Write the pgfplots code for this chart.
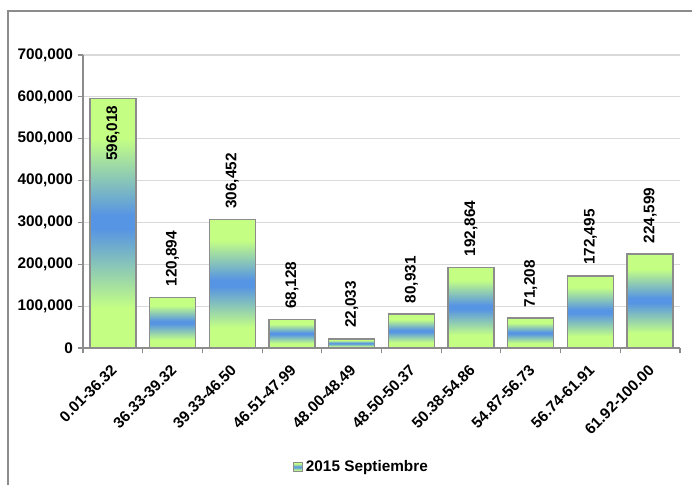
\documentclass[border=0pt]{standalone}
\usepackage{fontspec}
\setmainfont{Liberation Sans}
\usepackage{pgfplots}
\pgfplotsset{compat=1.18}

\definecolor{barGreen}{RGB}{196,255,132}
\definecolor{barBlue}{RGB}{86,148,228}
\definecolor{edgeGray}{RGB}{140,140,140}
\definecolor{gridGray}{RGB}{217,217,217}
\newcommand\lbl{\bfseries\fontsize{11.5}{13}\selectfont}

% green - blue - green, scaled to each bar (only 25bp..75bp is shown)
\pgfdeclareverticalshading{barshade}{100bp}{color(0bp)=(barGreen); color(33bp)=(barGreen);
  color(49bp)=(barBlue); color(51.5bp)=(barBlue); color(67bp)=(barGreen); color(100bp)=(barGreen)}

\pgfplotsset{
  onebar/.style={forget plot, ybar, bar shift=0pt, bar width=34.5pt, draw=edgeGray,
                 line width=1.1pt, shade, shading=barshade},
}

\begin{document}
\begin{tikzpicture}
% page size and chart frame (only left and top edges show)
\path[use as bounding box] (-62.25pt,-102.75pt) rectangle (456.75pt,261pt);
\draw[edgeGray, line width=1.5pt] (-56.25pt,-110pt) -- (-56.25pt,252.75pt) -- (470pt,252.75pt);

\begin{axis}[
    at={(0,0)}, anchor=south west,
    scale only axis,
    width=447.75pt, height=219.75pt,
    xmin=-0.5, xmax=9.5,
    ymin=0, ymax=700000,
    ytick={0,100000,200000,300000,400000,500000,600000,700000},
    scaled y ticks=false,
    axis lines*=left,
    axis line style={edgeGray, line width=1.5pt},
    tick align=outside,
    major tick length=4pt,
    minor tick length=4pt,
    tick style={edgeGray, line width=0.8pt},
    xtick={0,...,9},
    major x tick style={draw=none},
    minor xtick={-0.5,0.5,...,9.5},
    xticklabels={0.01-36.32,36.33-39.32,39.33-46.50,46.51-47.99,48.00-48.49,
                 48.50-50.37,50.38-54.86,54.87-56.73,56.74-61.91,61.92-100.00},
    xticklabel style={yshift=-6pt, xshift=-2pt, rotate=45, anchor=north east, font=\lbl, inner sep=1pt},
    yticklabel style={font=\lbl},
    ymajorgrids,
    major grid style={gridGray, line width=0.8pt},
    legend style={at={(0.467,-0.406)}, anchor=center, draw=none, font=\lbl},
    legend image code/.code={\draw[#1] (2pt,-3.5pt) rectangle (9pt,3.5pt);},
    /pgf/number format/fixed,
    /pgf/number format/1000 sep={,},
    /pgf/number format/assume math mode=true,
]
% one plot per bar so that each bar gets its own shading
\addplot[onebar] coordinates {(0,596018)};
\addplot[onebar] coordinates {(1,120894)};
\addplot[onebar] coordinates {(2,306452)};
\addplot[onebar] coordinates {(3,68128)};
\addplot[onebar] coordinates {(4,22033)};
\addplot[onebar] coordinates {(5,80931)};
\addplot[onebar] coordinates {(6,192864)};
\addplot[onebar] coordinates {(7,71208)};
\addplot[onebar] coordinates {(8,172495)};
\addplot[onebar] coordinates {(9,224599)};
\addlegendimage{draw=edgeGray, line width=0.6pt, shade, shading=barshade}
\addlegendentry{2015 Septiembre}

% value labels above the bars
\addplot[forget plot, draw=none, mark=none,
    nodes near coords,
    nodes near coords style={rotate=90, anchor=west, inner xsep=8pt, font=\lbl, text=black},
] coordinates {(1,120894) (2,306452) (3,68128) (4,22033) (5,80931)
               (6,192864) (7,71208) (8,172495) (9,224599)};
% the tallest bar has its label inside
\addplot[forget plot, draw=none, mark=none,
    nodes near coords,
    nodes near coords style={rotate=90, anchor=east, inner xsep=5pt, font=\lbl, text=black},
] coordinates {(0,596018)};
\end{axis}
\end{tikzpicture}
\end{document}
